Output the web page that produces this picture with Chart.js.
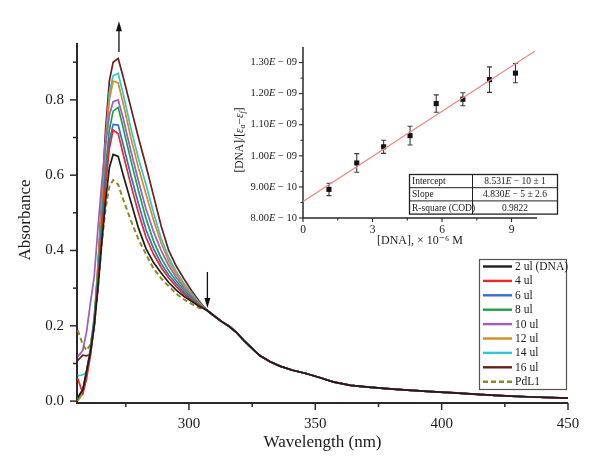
<!DOCTYPE html>
<html><head><meta charset="utf-8">
<script src="https://cdn.jsdelivr.net/npm/chart.js@4.4.1/dist/chart.umd.min.js"></script>
<style>
html,body{margin:0;padding:0;background:#fff;}
#wrap{position:relative;width:600px;height:474px;overflow:hidden;}
#main{position:absolute;left:0;top:0;}
#inset{position:absolute;left:220px;top:30px;}
</style></head><body>
<div id="wrap"><canvas id="main" width="600" height="474"></canvas><canvas id="inset" width="350" height="230"></canvas></div>
<script>
// ---------- main spectrum data ----------
const wavelengthHead = [256,258,259.5,261,262.5,264,265.5,267,268.5,270,272,274,277,280,283,286,289,292,295,298,301,304];
const wavelengthTail = [307,310,313,316,319,322,325,328,332,336,341,346,352,357,364,370,377,385,396,405,416,425,436,450];
const absTail = [0.242,0.226,0.211,0.198,0.181,0.159,0.140,0.121,0.105,0.093,0.082,0.074,0.062,0.051,0.042,0.038,0.034,0.030,0.025,0.022,0.017,0.014,0.011,0.008];

const abs2ul  = [0.010,0.030,0.080,0.130,0.200,0.300,0.420,0.530,0.620,0.655,0.650,0.600,0.530,0.460,0.405,0.368,0.340,0.315,0.295,0.278,0.265,0.252];
const abs4ul  = [0.060,0.020,0.060,0.120,0.200,0.310,0.440,0.570,0.670,0.720,0.710,0.655,0.575,0.500,0.435,0.390,0.355,0.327,0.304,0.284,0.268,0.254];
const abs6ul  = [0.010,0.030,0.080,0.130,0.210,0.320,0.460,0.590,0.690,0.735,0.733,0.680,0.600,0.525,0.455,0.405,0.365,0.335,0.311,0.289,0.271,0.255];
const abs8ul  = [0.005,0.030,0.080,0.140,0.220,0.340,0.480,0.620,0.720,0.770,0.780,0.725,0.640,0.560,0.485,0.425,0.380,0.346,0.319,0.295,0.275,0.257];
const abs10ul = [0.118,0.135,0.185,0.260,0.330,0.460,0.580,0.680,0.760,0.795,0.800,0.750,0.665,0.585,0.510,0.450,0.400,0.360,0.328,0.301,0.279,0.258];
const abs12ul = [0.000,0.020,0.070,0.130,0.220,0.360,0.520,0.680,0.800,0.850,0.845,0.790,0.700,0.620,0.550,0.480,0.420,0.372,0.337,0.308,0.283,0.260];
const abs14ul = [0.067,0.070,0.075,0.120,0.210,0.350,0.520,0.690,0.820,0.864,0.870,0.815,0.725,0.645,0.575,0.500,0.432,0.382,0.344,0.313,0.287,0.262];
const abs16ul = [0.108,0.122,0.120,0.125,0.200,0.360,0.540,0.720,0.850,0.900,0.910,0.860,0.780,0.700,0.625,0.545,0.465,0.400,0.358,0.325,0.294,0.266];
const absPdL1 = [0.188,0.150,0.135,0.150,0.200,0.300,0.420,0.510,0.570,0.587,0.575,0.535,0.480,0.430,0.390,0.352,0.326,0.305,0.285,0.270,0.258,0.248];

const seriesLabels = ['2 ul (DNA)','4 ul','6 ul','8 ul','10 ul','12 ul','14 ul','16 ul','PdL1'];
const seriesHeads = [abs2ul,abs4ul,abs6ul,abs8ul,abs10ul,abs12ul,abs14ul,abs16ul,absPdL1];
const seriesColors = ['#1c1c1c','#f22525','#2f6fd6','#1f9f4a','#9a5cc6','#d38b22','#30c6d6','#6e1c1c','#8c8c1e'];

const xTickLabels = [300,350,400,450];
const xMinorTicks = [275,325,375,425];
const yTickLabels = [0,0.2,0.4,0.6,0.8];
const yMinorTicks = [0.1,0.3,0.5,0.7,0.9];

const arrowUp = {wl:272.3, from:0.927, to:1.009};
const arrowDown = {wl:307.3, from:0.343, to:0.247};

// ---------- inset data ----------
const dnaConc = [1.12,2.32,3.48,4.62,5.75,6.90,8.05,9.17];
const ratio   = [8.92e-10,9.77e-10,1.029e-9,1.065e-9,1.168e-9,1.182e-9,1.245e-9,1.266e-9];
const ratioErr= [0.20e-10,0.30e-10,0.21e-10,0.30e-10,0.28e-10,0.21e-10,0.41e-10,0.31e-10];
const fitX = [0,10];
const fitY = [8.531e-10,1.3361e-9];
const insetXTicks = [0,3,6,9];
const insetXMinor = [1.5,4.5,7.5];
const insetYTicks = [8e-10,9e-10,1e-9,1.1e-9,1.2e-9,1.3e-9];
const insetYMinor = [8.5e-10,9.5e-10,1.05e-9,1.15e-9,1.25e-9];
const tableRows = [['Intercept',['8.531','E',' − 10 ± 1']],['Slope',['4.830','E',' − 5 ± 2.6']],['R-square (COD)',['0.9822','','']]];

const SERIF = '"Liberation Serif","DejaVu Serif",serif';
const AX = '#2a2a2a';

const datasets = seriesHeads.map((h,k)=>{
  const vals = h.concat(absTail);
  const wls = wavelengthHead.concat(wavelengthTail);
  return {
    label: seriesLabels[k],
    data: wls.map((w,i)=>({x:w,y:vals[i]})),
    borderColor: seriesColors[k],
    borderWidth: k===8?2:1.7,
    borderDash: k===8?[5,3]:[],
    pointRadius:0, tension:0, fill:false
  };
});

function drawArrow(ctx,x,y1,y2){
  const dir = y2<y1?-1:1;
  ctx.save();
  ctx.strokeStyle='#111';ctx.fillStyle='#111';ctx.lineWidth=1.3;
  ctx.beginPath();ctx.moveTo(x,y1);ctx.lineTo(x,y2-dir*8);ctx.stroke();
  ctx.beginPath();ctx.moveTo(x,y2);ctx.lineTo(x-3,y2-dir*10);ctx.lineTo(x+3,y2-dir*10);ctx.closePath();ctx.fill();
  ctx.restore();
}

// draws a string made of [mantissa, italicE, rest] parts, aligned by right or center
function drawMixed(ctx,parts,size,x,y,align){
  const fonts=[size+'px '+SERIF,'italic '+size+'px '+SERIF,size+'px '+SERIF];
  const ws=parts.map((p,i)=>{ctx.font=fonts[i];return ctx.measureText(p).width;});
  const tw=ws[0]+ws[1]+ws[2];
  let cx = align==='right'? x-tw : (align==='center'? x-tw/2 : x);
  ctx.textAlign='left';
  parts.forEach((p,i)=>{ctx.font=fonts[i];ctx.fillText(p,cx,y);cx+=ws[i];});
}

const mainPlugin = {
  id:'mainDeco',
  beforeDatasetsDraw(chart){
    const {ctx, chartArea:a, scales:{x,y}} = chart;
    ctx.save();
    ctx.strokeStyle=AX;ctx.lineWidth=2;
    ctx.beginPath();ctx.moveTo(a.left,a.top);ctx.lineTo(a.left,a.bottom);ctx.lineTo(a.right,a.bottom);ctx.stroke();
    ctx.lineWidth=1.5;
    yTickLabels.forEach(v=>{const p=y.getPixelForValue(v);ctx.beginPath();ctx.moveTo(a.left-7,p);ctx.lineTo(a.left,p);ctx.stroke();});
    yMinorTicks.forEach(v=>{const p=y.getPixelForValue(v);ctx.beginPath();ctx.moveTo(a.left-4,p);ctx.lineTo(a.left,p);ctx.stroke();});
    xTickLabels.forEach(v=>{const p=x.getPixelForValue(v);ctx.beginPath();ctx.moveTo(p,a.bottom);ctx.lineTo(p,a.bottom+7);ctx.stroke();});
    xMinorTicks.forEach(v=>{const p=x.getPixelForValue(v);ctx.beginPath();ctx.moveTo(p,a.bottom);ctx.lineTo(p,a.bottom+4);ctx.stroke();});
    ctx.restore();
  },
  afterDraw(chart){
    const {ctx, chartArea:a, scales:{x,y}} = chart;
    ctx.save();
    ctx.fillStyle='#1a1a1a';
    ctx.font='17px '+SERIF;ctx.textAlign='center';ctx.textBaseline='middle';
    ctx.fillText('Wavelength (nm)', (a.left+a.right)/2, 443);
    ctx.translate(26,220);ctx.rotate(-Math.PI/2);
    ctx.fillText('Absorbance',0,0);
    ctx.restore();
    drawArrow(ctx,x.getPixelForValue(arrowUp.wl),y.getPixelForValue(arrowUp.from),y.getPixelForValue(arrowUp.to));
    drawArrow(ctx,x.getPixelForValue(arrowDown.wl),y.getPixelForValue(arrowDown.from),y.getPixelForValue(arrowDown.to));
    const L=479.5,T=259.5,W=87,H=130,step=14.4;
    ctx.save();
    ctx.fillStyle='#fff';ctx.fillRect(L,T,W,H);
    ctx.strokeStyle='#555';ctx.lineWidth=1.2;ctx.strokeRect(L,T,W,H);
    ctx.font='11.5px '+SERIF;ctx.textBaseline='middle';ctx.textAlign='left';
    chart.data.datasets.forEach((d,i)=>{
      const yy=266.5+i*step;
      ctx.strokeStyle=d.borderColor;ctx.lineWidth=2.4;ctx.setLineDash(d.borderDash||[]);
      ctx.beginPath();ctx.moveTo(483,yy);ctx.lineTo(512,yy);ctx.stroke();
      ctx.setLineDash([]);
      ctx.fillStyle='#1a1a1a';ctx.fillText(d.label,515,yy+0.5);
    });
    ctx.restore();
  }
};

new Chart(document.getElementById('main'),{
  type:'line',
  data:{datasets},
  options:{
    responsive:false, animation:false, events:[],
    layout:{padding:{left:0,right:32,top:43,bottom:0}},
    plugins:{legend:{display:false},tooltip:{enabled:false}},
    scales:{
      x:{type:'linear',min:255.7,max:450,
        afterBuildTicks:s=>{s.ticks=xTickLabels.map(v=>({value:v}));},
        ticks:{font:{family:SERIF,size:15},color:'#1a1a1a',padding:12,maxRotation:0,autoSkip:false},
        grid:{display:false,drawTicks:false},border:{display:false},
        afterFit:s=>{s.height=71;}},
      y:{type:'linear',min:-0.005,max:0.951,
        afterBuildTicks:s=>{s.ticks=yTickLabels.map(v=>({value:v}));},
        ticks:{font:{family:SERIF,size:15},color:'#1a1a1a',padding:13,callback:v=>Number(v).toFixed(1)},
        grid:{display:false,drawTicks:false},border:{display:false},
        afterFit:s=>{s.width=77;}}
    }
  },
  plugins:[mainPlugin]
});

// ---------- inset ----------
function partsE(v){
  const e=Math.floor(Math.log10(v)+1e-9);
  const m=v/Math.pow(10,e);
  return [m.toFixed(2),'E',' − '+String(-e).padStart(2,'0')];
}

const insetPlugin = {
  id:'insetDeco',
  beforeDatasetsDraw(chart){
    const {ctx, chartArea:a, scales:{x,y}} = chart;
    ctx.save();
    ctx.strokeStyle=AX;ctx.lineWidth=1.5;
    ctx.beginPath();ctx.moveTo(a.left,a.top);ctx.lineTo(a.left,a.bottom);ctx.lineTo(a.right,a.bottom);ctx.stroke();
    ctx.lineWidth=1.1;
    insetYTicks.forEach(v=>{const p=y.getPixelForValue(v);ctx.beginPath();ctx.moveTo(a.left-4,p);ctx.lineTo(a.left,p);ctx.stroke();});
    insetYMinor.forEach(v=>{const p=y.getPixelForValue(v);ctx.beginPath();ctx.moveTo(a.left-2.5,p);ctx.lineTo(a.left,p);ctx.stroke();});
    insetXTicks.forEach(v=>{const p=x.getPixelForValue(v);ctx.beginPath();ctx.moveTo(p,a.bottom);ctx.lineTo(p,a.bottom+4);ctx.stroke();});
    insetXMinor.forEach(v=>{const p=x.getPixelForValue(v);ctx.beginPath();ctx.moveTo(p,a.bottom);ctx.lineTo(p,a.bottom+2.5);ctx.stroke();});
    // y tick labels with italic E
    ctx.fillStyle='#1a1a1a';ctx.textBaseline='middle';
    insetYTicks.forEach(v=>{drawMixed(ctx,partsE(v),10.5,a.left-6,y.getPixelForValue(v),'right');});
    // error bars
    ctx.strokeStyle='#3a3a3a';ctx.lineWidth=1.1;
    dnaConc.forEach((c,i)=>{
      const px=x.getPixelForValue(c);
      const p1=y.getPixelForValue(ratio[i]+ratioErr[i]);
      const p2=y.getPixelForValue(ratio[i]-ratioErr[i]);
      ctx.beginPath();
      ctx.moveTo(px,p1);ctx.lineTo(px,p2);
      ctx.moveTo(px-2.5,p1);ctx.lineTo(px+2.5,p1);
      ctx.moveTo(px-2.5,p2);ctx.lineTo(px+2.5,p2);
      ctx.stroke();
    });
    ctx.restore();
  },
  afterDraw(chart){
    const {ctx, chartArea:a} = chart;
    ctx.save();
    ctx.fillStyle='#1a1a1a';
    ctx.font='12px '+SERIF;ctx.textAlign='center';ctx.textBaseline='middle';
    ctx.fillText('[DNA], × 10⁻⁶ M',(a.left+a.right)/2,211);
    ctx.translate(19.5,110);ctx.rotate(-Math.PI/2);
    const segs=[['[DNA]/[','normal',11.5,0],['ε','italic',11.5,0],['a','italic',8,3],['−','normal',11.5,0],['ε','italic',11.5,0],['f','italic',8,3],[']','normal',11.5,0]];
    let tw=0;
    segs.forEach(s=>{ctx.font=s[1]+' '+s[2]+'px '+SERIF;s.push(ctx.measureText(s[0]).width);tw+=s[4];});
    let cx=-tw/2;
    ctx.textAlign='left';
    segs.forEach(s=>{ctx.font=s[1]+' '+s[2]+'px '+SERIF;ctx.fillText(s[0],cx,s[3]);cx+=s[4];});
    ctx.restore();
    // table
    ctx.save();
    const TL=189.5,TT=144.5,TW=148,RH=13.2,TD=252.5;
    ctx.fillStyle='#fff';ctx.fillRect(TL,TT,TW,RH*3);
    ctx.strokeStyle='#222';ctx.lineWidth=1.3;ctx.strokeRect(TL,TT,TW,RH*3);
    ctx.lineWidth=1;
    ctx.beginPath();
    ctx.moveTo(TL,TT+RH);ctx.lineTo(TL+TW,TT+RH);
    ctx.moveTo(TL,TT+2*RH);ctx.lineTo(TL+TW,TT+2*RH);
    ctx.moveTo(TD,TT);ctx.lineTo(TD,TT+3*RH);
    ctx.stroke();
    ctx.fillStyle='#1a1a1a';ctx.textBaseline='middle';
    tableRows.forEach((r,i)=>{
      const yy=TT+RH*(i+0.5)+0.5;
      ctx.font='9.5px '+SERIF;ctx.textAlign='left';ctx.fillText(r[0],TL+2.5,yy);
      drawMixed(ctx,r[1],9.5,(TD+TL+TW)/2,yy,'center');
    });
    ctx.restore();
  }
};

new Chart(document.getElementById('inset'),{
  type:'scatter',
  data:{datasets:[
    {type:'line',data:fitX.map((v,i)=>({x:v,y:fitY[i]})),borderColor:'#f08585',borderWidth:1.2,pointRadius:0,tension:0},
    {type:'scatter',data:dnaConc.map((v,i)=>({x:v,y:ratio[i]})),pointStyle:'rect',pointRadius:3.6,backgroundColor:'#111',borderColor:'#111',borderWidth:0}
  ]},
  options:{
    responsive:false, animation:false, events:[],
    layout:{padding:{left:0,right:33,top:17,bottom:0}},
    plugins:{legend:{display:false},tooltip:{enabled:false}},
    scales:{
      x:{type:'linear',min:0,max:10.1,
        afterBuildTicks:s=>{s.ticks=insetXTicks.map(v=>({value:v}));},
        ticks:{font:{family:SERIF,size:11.5},color:'#1a1a1a',padding:5,maxRotation:0,autoSkip:false},
        grid:{display:false,drawTicks:false},border:{display:false},
        afterFit:s=>{s.height=42;}},
      y:{type:'linear',min:8e-10,max:1.35e-9,
        afterBuildTicks:s=>{s.ticks=insetYTicks.map(v=>({value:v}));},
        ticks:{display:false},
        grid:{display:false,drawTicks:false},border:{display:false},
        afterFit:s=>{s.width=83;}}
    }
  },
  plugins:[insetPlugin]
});
</script>
</body></html>
